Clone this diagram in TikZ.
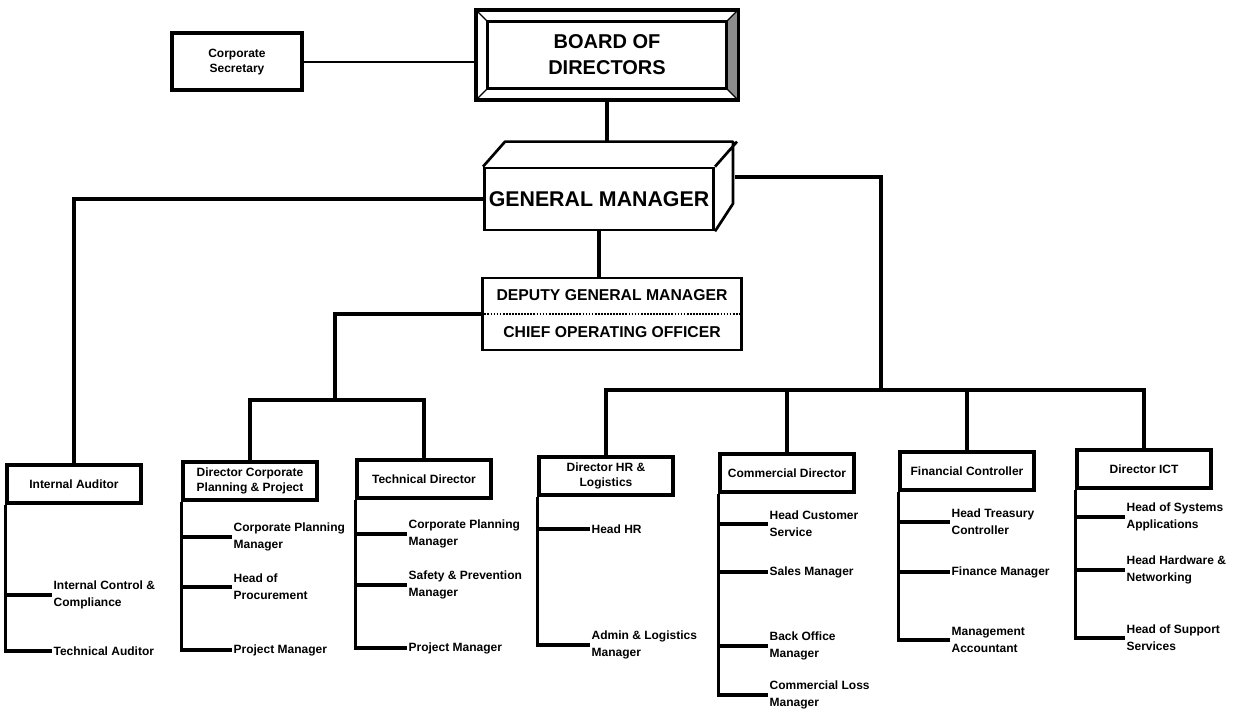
\documentclass[tikz,border=0pt]{standalone}
\usepackage{fontspec}
\setmainfont{Liberation Sans}
\usepackage{tikz}
\usetikzlibrary{calc}
\tikzset{
	link/.style={line width=2.3pt},
	slimlink/.style={line width=1.3pt},
	post/.style={draw, line width=3pt, minimum width=100pt, minimum height=28.5pt, inner sep=1pt, align=center, font=\fontsize{9}{11}\selectfont\bfseries},
	staff/.style={anchor=west, inner sep=1pt, align=left, font=\fontsize{9}{13}\selectfont\bfseries},
}

\begin{document}
\begin{tikzpicture}[x=0.75pt, y=-0.75pt]
			%%%%% START %%%%%
			\useasboundingbox (0, 0) rectangle (1240, 713);
			
			% top of the tree
			\node[draw, line width=3pt, minimum width=98pt, minimum height=42.75pt, align=center, font=\fontsize{9}{11}\selectfont\bfseries] (cs) at (237, 62) {Corporate\\Secretary};
			
			\node[draw, line width=2pt, minimum width=195pt, minimum height=66pt, align=center, font=\fontsize{15}{19.5}\selectfont\bfseries] (bod) at (607, 55) {BOARD OF\\DIRECTORS};
			\fill[black!45] (bod.north east) -- ++(-12, 12) -- ([shift={(-12, -12)}]bod.south east) -- (bod.south east) -- cycle;
			\draw[line width=2pt] ([shift={(12, 12)}]bod.north west) rectangle ([shift={(-12, -12)}]bod.south east);
			\draw[line width=1pt] (bod.north west) -- ++(12, 12) (bod.north east) -- ++(-12, 12) (bod.south west) -- ++(12, -12) (bod.south east) -- ++(-12, -12);
			\draw[line width=2pt] (bod.north west) rectangle (bod.south east);
			
			\draw[slimlink] (cs.east) -- (cs.east -| bod.west);
			
			\node[draw, line width=2pt, minimum width=171pt, minimum height=46.5pt, font=\fontsize{16}{19}\selectfont\bfseries] (gm) at (599, 199) {GENERAL MANAGER};
			\draw[line width=2pt, line join=round] (gm.north west) -- ++(22, -25) -- ++(228, 0) -- ++(0, 62) -- (gm.south east) (gm.north east) -- ++(22, -25);
			\coordinate (gmback) at ($(gm.north)+(22, -25)$);
			\coordinate (gmside) at (735, 177);
			
			\draw[link] (bod.south) -- (bod.south |- gmback);
			
			\node[draw, line width=2pt, minimum width=194pt, minimum height=54pt, align=center, font=\fontsize{11.8}{27.75}\selectfont\bfseries] (dgm) at (612, 314) {DEPUTY GENERAL MANAGER\\CHIEF OPERATING OFFICER};
			\draw[line width=1.3pt, densely dotted] (dgm.west) -- (dgm.east);
			\draw[link] (gm.south) -- (gm.south |- dgm.north);
			
			% directors
			\node[post] (ia) at (74, 484) {Internal Auditor};
			\node[post] (dcp) at (250, 481) {Director Corporate\\Planning \& Project};
			\node[post] (td) at (424, 479) {Technical Director};
			\node[post] (hr) at (606, 476) {Director HR \&\\Logistics};
			\node[post] (cd) at (787, 473) {Commercial Director};
			\node[post] (fc) at (967, 471) {Financial Controller};
			\node[post] (ict) at (1144, 469) {Director ICT};
			
			\coordinate (lbar) at (335, 400);
			\coordinate (rbar) at (881, 390);
			
			\draw[link] (gm.west) -| (ia.north);
			\draw[link] (dgm.west) -| (lbar);
			\draw[link] (dcp.north) |- (lbar) -| (td.north);
			\draw[link] (gmside) -| (rbar);
			\draw[link] (hr.north) |- (rbar) -| (ict.north);
			\draw[link] (cd.north) -- (cd.north |- rbar);
			\draw[link] (fc.north) -- (fc.north |- rbar);
			
			% staff under each director
			\node[staff] (ia1) at (52, 595) {Internal Control \&\\Compliance};
			\node[staff] (ia2) at (52, 651) {Technical Auditor};
			\draw[link] (ia.south west) |- (ia2.west);
			\draw[link] (ia.south west |- ia1.west) -- (ia1.west);
			
			\node[staff] (dcp1) at (232, 537) {Corporate Planning\\Manager};
			\node[staff] (dcp2) at (232, 587) {Head of\\Procurement};
			\node[staff] (dcp3) at (232, 650) {Project Manager};
			\draw[link] (dcp.south west) |- (dcp3.west);
			\draw[link] (dcp.south west |- dcp1.west) -- (dcp1.west);
			\draw[link] (dcp.south west |- dcp2.west) -- (dcp2.west);
			
			\node[staff] (td1) at (407, 534) {Corporate Planning\\Manager};
			\node[staff] (td2) at (407, 585) {Safety \& Prevention\\Manager};
			\node[staff] (td3) at (407, 648) {Project Manager};
			\draw[link] (td.south west) |- (td3.west);
			\draw[link] (td.south west |- td1.west) -- (td1.west);
			\draw[link] (td.south west |- td2.west) -- (td2.west);
			
			\node[staff] (hr1) at (590, 529) {Head HR};
			\node[staff] (hr2) at (590, 645) {Admin \& Logistics\\Manager};
			\draw[link] (hr.south west) |- (hr2.west);
			\draw[link] (hr.south west |- hr1.west) -- (hr1.west);
			
			\node[staff] (cd1) at (768, 524) {Head Customer\\Service};
			\node[staff] (cd2) at (768, 572) {Sales Manager};
			\node[staff] (cd3) at (768, 646) {Back Office\\Manager};
			\node[staff] (cd4) at (768, 695) {Commercial Loss\\Manager};
			\draw[link] (cd.south west) |- (cd4.west);
			\draw[link] (cd.south west |- cd1.west) -- (cd1.west);
			\draw[link] (cd.south west |- cd2.west) -- (cd2.west);
			\draw[link] (cd.south west |- cd3.west) -- (cd3.west);
			
			\node[staff] (fc1) at (950, 522) {Head Treasury\\Controller};
			\node[staff] (fc2) at (950, 572) {Finance Manager};
			\node[staff] (fc3) at (950, 640) {Management\\Accountant};
			\draw[link] (fc.south west) |- (fc3.west);
			\draw[link] (fc.south west |- fc1.west) -- (fc1.west);
			\draw[link] (fc.south west |- fc2.west) -- (fc2.west);
			
			\node[staff] (ict1) at (1125, 517) {Head of Systems\\Applications};
			\node[staff] (ict2) at (1125, 570) {Head Hardware \&\\Networking};
			\node[staff] (ict3) at (1125, 638) {Head of Support\\Services};
			\draw[link] (ict.south west) |- (ict3.west);
			\draw[link] (ict.south west |- ict1.west) -- (ict1.west);
			\draw[link] (ict.south west |- ict2.west) -- (ict2.west);
			
			%%%%% END %%%%%
\end{tikzpicture}
\end{document}
